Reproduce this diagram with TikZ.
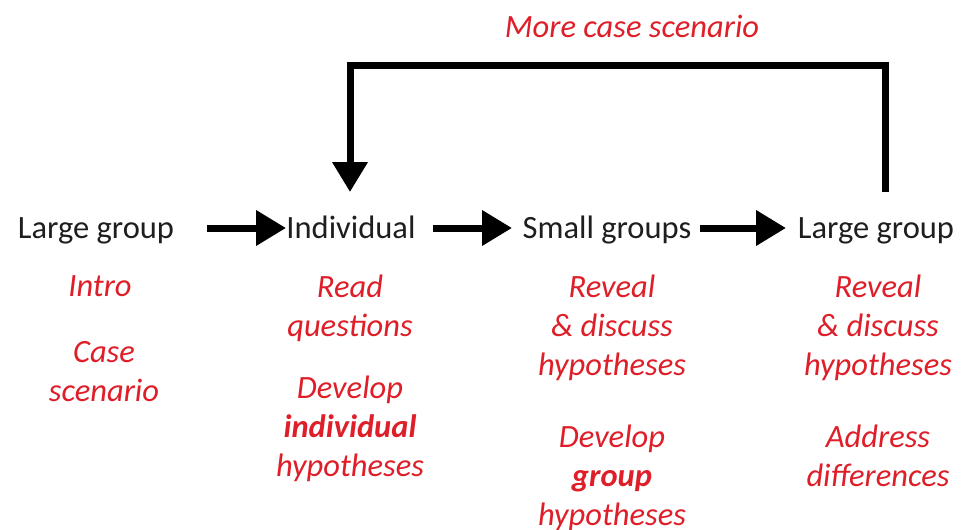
\documentclass[tikz,border=0pt]{standalone}
\usepackage{fontspec}
\setmainfont{Carlito}
\usetikzlibrary{arrows.meta}
\definecolor{txtred}{RGB}{222,30,40}
\definecolor{txtdark}{RGB}{30,30,30}
\tikzset{
  head/.style={font=\fontsize{32.5}{39}\selectfont, text=txtdark, inner sep=0pt, anchor=base},
  redtxt/.style={font=\fontsize{32.5}{39}\selectfont\itshape, text=txtred, inner sep=0pt, align=center, anchor=north, execute at begin node={\strut}},
  bigarrow/.style={line width=7pt, -{Triangle[width=34pt,length=30pt]}},
}
\begin{document}
\begin{tikzpicture}[x=1pt,y=-1pt]
\useasboundingbox (0,0) rectangle (975,530);
% headings
\node[head] (lg1) at (96,238) {Large group};
\node[head] (ind) at (351,238) {Individual};
\node[head] (sg) at (607,238) {Small groups};
\node[head] (lg2) at (876,238) {Large group};
% horizontal arrows
\coordinate (a1s) at (207,228); \coordinate (a1e) at (286,228);
\coordinate (a2s) at (433,228); \coordinate (a2e) at (512,228);
\coordinate (a3s) at (700,228); \coordinate (a3e) at (786,228);
\draw[bigarrow] (a1s) -- (a1e);
\draw[bigarrow] (a2s) -- (a2e);
\draw[bigarrow] (a3s) -- (a3e);
% loop
\coordinate (ls) at (885,192);
\coordinate (le) at (350,192);
\draw[bigarrow, line join=miter] (ls) -- (885,65) -- (350,65) -- (le);
\node[redtxt] (more) at (632,9.7) {More case scenario};
% red texts
\node[redtxt] (c1a) at (100,268.7) {Intro};
\node[redtxt] (c1b) at (104,341.7) {Case\\scenario};
\node[redtxt] (c2a) at (350,274.7) {Read\\questions};
\node[redtxt] (c2b) at (350,375.7) {Develop\\\textbf{individual}\\hypotheses};
\node[redtxt] (c3a) at (612,274.7) {Reveal\\\&~discuss\\hypotheses};
\node[redtxt] (c3b) at (612,424.7) {Develop\\\textbf{group}\\hypotheses};
\node[redtxt] (c4a) at (878,274.7) {Reveal\\\&~discuss\\hypotheses};
\node[redtxt] (c4b) at (878,424.7) {Address\\differences};
\end{tikzpicture}
\end{document}
